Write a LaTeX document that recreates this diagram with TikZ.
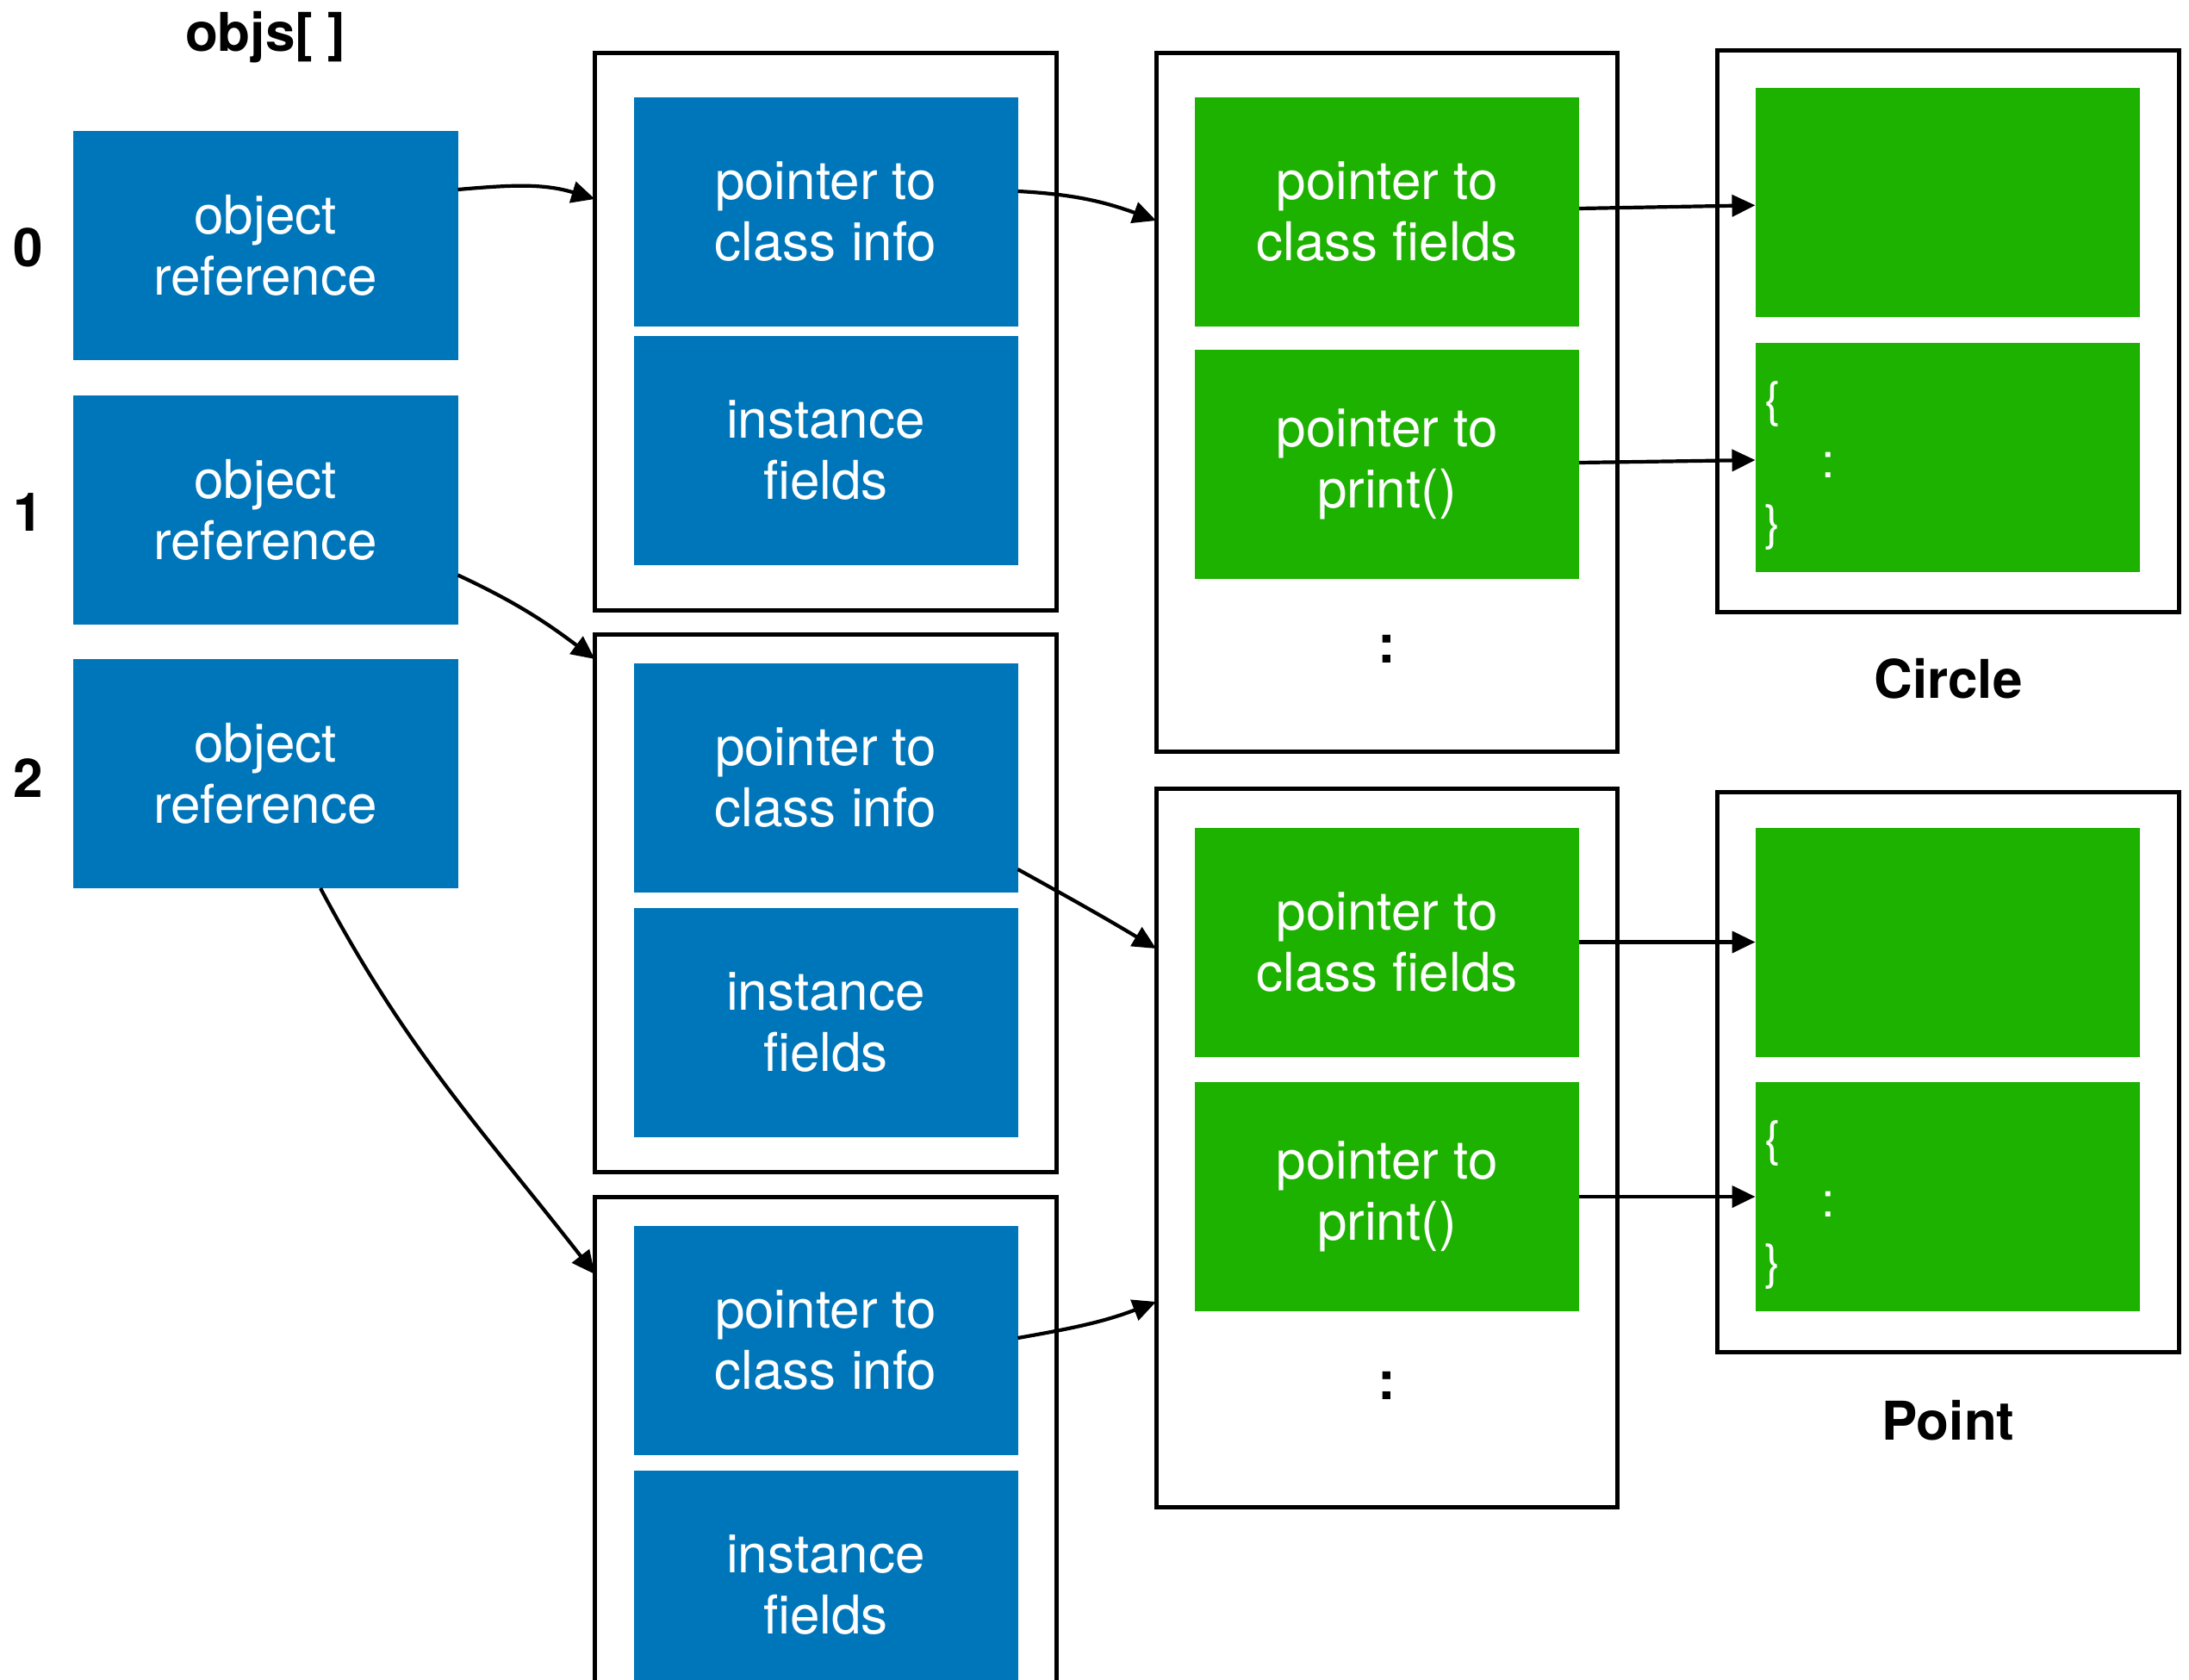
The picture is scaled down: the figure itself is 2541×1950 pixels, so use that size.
\documentclass[tikz,border=0pt]{standalone}
\usepackage{fontspec}
\setmainfont{TeX Gyre Heros}
\usetikzlibrary{arrows.meta}

\definecolor{boxblue}{HTML}{0076BA}
\definecolor{boxgreen}{HTML}{1DB100}

\begin{document}
\begin{tikzpicture}[x=1pt,y=-1pt,
  cell/.style={rectangle, inner sep=0pt, outer sep=0pt, text=white, align=center,
    font=\fontsize{62}{71}\selectfont},
  bluecell/.style={cell, fill=boxblue, minimum width=446pt, minimum height=266pt},
  greencell/.style={cell, fill=boxgreen, minimum width=446pt, minimum height=266pt},
  frame/.style={rectangle, draw=black, line width=5pt, inner sep=0pt, outer sep=0pt,
    minimum width=536pt},
  title/.style={inner sep=0pt, anchor=base, font=\fontsize{62}{71}\selectfont\bfseries},
  dots/.style={inner sep=0pt, anchor=base, font=\fontsize{62}{71}\selectfont\bfseries},
  codebody/.style={inner sep=0pt, anchor=north west, text=white, align=left,
    font=\fontsize{56}{71.5}\selectfont},
  link/.style={line width=4.2pt, -{Triangle[length=27pt,width=25pt]}}
]
\fill[white] (0,0) rectangle (2541,1950);
\clip (0,0) rectangle (2541,1950);

% array of references
\node[title] (objs) at (308,60) {objs[ ]};
\node[title] (i0) at (33,310) {0};
\node[title] (i1) at (33,616) {1};
\node[title] (i2) at (33,925) {2};
\node[bluecell, minimum width=447pt] (o0) at (308,285) {object\\reference};
\node[bluecell, minimum width=447pt] (o1) at (308,591.5) {object\\reference};
\node[bluecell, minimum width=447pt] (o2) at (308,898) {object\\reference};

% object instances
\node[frame, minimum height=646pt] (cA) at (958.5,385) {};
\node[frame, minimum height=624pt] (cB) at (958.5,1048) {};
\node[frame, minimum height=622pt] (cC) at (958.5,1700) {};
\node[bluecell] (pA) at (958.5,246) {pointer to\\class info};
\node[bluecell] (fA) at (958.5,523) {instance\\fields};
\node[bluecell] (pB) at (958.5,903) {pointer to\\class info};
\node[bluecell] (fB) at (958.5,1187) {instance\\fields};
\node[bluecell] (pC) at (958.5,1556) {pointer to\\class info};
\node[bluecell] (fC) at (958.5,1840) {instance\\fields};

% class info tables
\node[frame, minimum width=535pt, minimum height=810pt] (kA) at (1609.5,467) {};
\node[frame, minimum width=535pt, minimum height=834pt] (kB) at (1609.5,1332) {};
\node[greencell] (f1) at (1610,246) {pointer to\\class fields};
\node[greencell] (f2) at (1610,539) {pointer to\\print()};
\node[dots] (d1) at (1610,769) {:};
\node[greencell] (f3) at (1610,1093.5) {pointer to\\class fields};
\node[greencell] (f4) at (1610,1389) {pointer to\\print()};
\node[dots] (d2) at (1610,1624) {:};

% classes
\node[frame, minimum height=652pt] (hA) at (2261,384.5) {};
\node[frame, minimum height=650pt] (hB) at (2261,1244) {};
\node[greencell] (h1) at (2260.5,235.3) {};
\node[greencell] (h2) at (2260.5,531) {};
\node[greencell] (h3) at (2260.5,1093.5) {};
\node[greencell] (h4) at (2260.5,1389) {};
\node[codebody] (b1) at (2048,442) {\{\\\hspace*{66pt}:\\\}};
\node[codebody] (b2) at (2048,1300) {\{\\\hspace*{66pt}:\\\}};
\node[title] (circle) at (2261.5,810) {Circle};
\node[title] (point) at (2261.5,1671) {Point};

% references
\draw[link] ([yshift=65pt]o0.east) to[out=5,in=163] ([yshift=154pt]cA.west);
\draw[link] ([yshift=-76pt]o1.east) to[out=-25,in=143] ([yshift=-29pt]cB.north west);
\draw[link] ([xshift=64pt]o2.south) to[out=-62,in=128] ([yshift=-90pt]cC.north west);
\draw[link] ([yshift=24pt]pA.east) to[out=-3,in=160] ([yshift=-194pt]kA.north west);
\draw[link] ([yshift=-106pt]pB.east) to[out=-29,in=149] ([yshift=-186pt]kB.north west);
\draw[link] ([yshift=3pt]pC.east) to[out=10,in=-159] ([yshift=-596pt]kB.north west);
\draw[link] ([yshift=4pt]f1.east) -- ([yshift=-3pt]h1.west);
\draw[link] ([yshift=2pt]f2.east) -- ([yshift=-3pt]h2.west);
\draw[link] (f3.east) -- (h3.west);
\draw[link] (f4.east) -- (h4.west);
\end{tikzpicture}
\end{document}
